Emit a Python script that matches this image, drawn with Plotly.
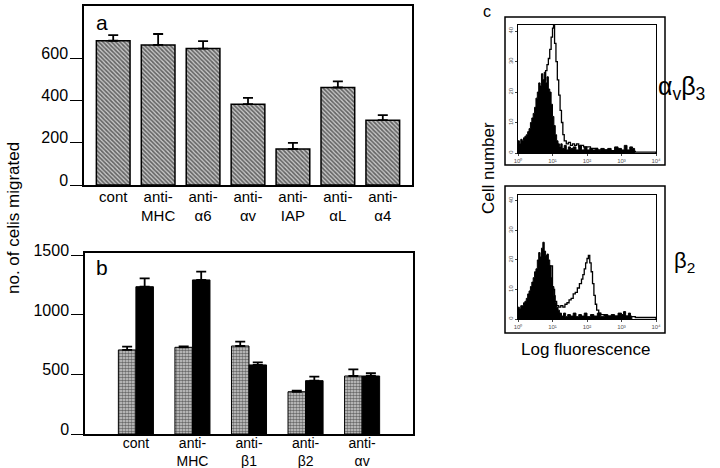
import plotly.graph_objects as go

W, H = 720, 468
FONT = "Liberation Sans, Arial, sans-serif"

# ---------------- data ----------------
# panel a
a_cats = ["cont", "anti-<br>MHC", "anti-<br>α6", "anti-<br>αv", "anti-<br>IAP", "anti-<br>αL", "anti-<br>α4"]
a_vals = [685, 665, 648, 384, 171, 463, 308]
a_errs = [27, 52, 35, 30, 29, 29, 24]
a_yticks = [0, 200, 400, 600]

# panel b
b_cats = ["cont", "anti-<br>MHC", "anti-<br>β1", "anti-<br>β2", "anti-<br>αv"]
b_dot_vals = [706, 728, 739, 355, 487]
b_dot_errs = [27, 8, 36, 8, 55]
b_blk_vals = [1237, 1294, 580, 448, 487]
b_blk_errs = [70, 70, 22, 34, 23]
b_yticks = [0, 500, 1000, 1500]

# panel c (log10 fluorescence, cell number)
c1_fill_x = [0.00, 0.04, 0.08, 0.12, 0.16, 0.20, 0.24, 0.28, 0.32, 0.36, 0.40, 0.44, 0.48, 0.52, 0.56, 0.60,
             0.64, 0.68, 0.72, 0.76, 0.80, 0.84, 0.88, 0.92, 0.96, 1.00, 1.04, 1.08, 1.12, 1.16, 1.20, 1.24,
             1.28, 1.34, 1.40, 1.46, 1.52, 1.60, 1.68, 1.76, 1.84, 1.92, 2.00, 2.08, 2.16, 2.24, 2.32, 2.40,
             2.50, 2.60, 2.70, 2.80, 2.90, 3.00, 3.08, 3.16, 3.24, 3.32, 3.38]
c1_fill_y = [4, 3, 4.5, 4, 5, 5.5, 6, 7, 8, 10, 11.5, 13, 15, 18, 20, 23,
             22, 26, 24, 26.5, 23, 25, 21, 20, 16, 12, 9, 6, 4, 3, 2, 3,
             1.5, 2.5, 1, 2, 1.5, 2, 1, 2.5, 1, 2, 1, 1.5, 1, 1.5, 0.8, 1.5,
             1, 1.5, 0.8, 2, 1.5, 1, 2.5, 1, 2, 1.5, 0]
c1_open_x = [0.00, 0.20, 0.40, 0.60, 0.70, 0.76, 0.80, 0.84, 0.88, 0.92, 0.96, 1.00, 1.03, 1.06, 1.10, 1.14,
             1.18, 1.22, 1.26, 1.30, 1.34, 1.40, 1.46, 1.52, 1.58, 1.64, 1.70, 1.76, 1.82, 1.90, 2.00, 2.10,
             2.20, 2.30, 2.40, 2.60, 2.80, 3.00, 3.40, 4.00]
c1_open_y = [2, 3, 6, 14, 20, 24, 27, 29, 31, 34, 38, 41, 45, 36, 30, 24,
             19, 14, 10, 6, 4, 3, 3.5, 2.5, 3, 2.5, 3, 2, 2.5, 2, 2, 1.5,
             1.5, 1, 1, 0.8, 0.8, 0.5, 0.3, 0]

c2_fill_x = [0.00, 0.04, 0.08, 0.12, 0.16, 0.20, 0.24, 0.28, 0.32, 0.36, 0.40, 0.44, 0.48, 0.52, 0.56, 0.60,
             0.64, 0.68, 0.72, 0.76, 0.80, 0.84, 0.88, 0.92, 0.96, 1.00, 1.04, 1.08, 1.12, 1.16, 1.20, 1.26,
             1.32, 1.38, 1.44, 1.52, 1.60, 1.68, 1.76, 1.84, 1.92, 2.00, 2.10, 2.20, 2.30, 2.40, 2.50, 2.60,
             2.70, 2.80, 2.90, 3.00, 3.06, 3.12, 3.20, 3.26, 3.30]
c2_fill_y = [4, 3.5, 4.5, 4.5, 5.5, 6, 7, 8.5, 9.5, 11, 12.5, 14, 16, 17, 20, 22.5,
             21, 24, 26, 23, 21.5, 22, 20, 18, 14, 11, 8, 5.5, 4, 3, 2, 1,
             2, 0.8, 1.5, 1, 2, 0.8, 1.5, 1, 2, 0.8, 1.5, 1, 2, 0.8, 1.5, 1,
             1.5, 1, 2, 1.5, 2.5, 1, 2, 1, 0]
c2_open_x = [0.00, 0.20, 0.40, 0.60, 0.80, 1.00, 1.06, 1.12, 1.18, 1.24, 1.30, 1.36, 1.42, 1.48, 1.54, 1.60,
             1.66, 1.72, 1.78, 1.84, 1.88, 1.92, 1.96, 2.00, 2.04, 2.08, 2.12, 2.16, 2.20, 2.24, 2.28, 2.34,
             2.40, 2.50, 2.60, 2.80, 3.00, 3.20, 3.40, 4.00]
c2_open_y = [3, 5, 10, 18, 18, 10, 6, 4.5, 4, 4.5, 4, 5, 5.5, 6.5, 7, 8.5,
             9, 10.5, 12, 13.5, 15, 17, 19, 20.5, 21.5, 19, 16, 12, 8, 5, 3, 2,
             1.5, 1.2, 1, 1, 1, 0.8, 0.5, 0]
c_xticks = [0, 1, 2, 3, 4]
c_xticktext = ["10⁰", "10¹", "10²", "10³", "10⁴"]
c_yticks = [0, 10, 20, 30, 40]


def px(x):
    return x / W


def py(y):
    return 1 - y / H


fig = go.Figure()

hatch = dict(shape="\\", fgcolor="black", bgcolor="#c8c8c8", size=3, solidity=0.55)
dots = dict(shape=".", fgcolor="black", bgcolor="#d4d4d4", size=3, solidity=0.6)

# panel a bars
fig.add_trace(go.Bar(
    x=a_cats, y=a_vals, width=0.75, xaxis="x", yaxis="y",
    marker=dict(color="white", pattern=hatch, line=dict(color="black", width=1.5)),
    error_y=dict(type="data", symmetric=False, array=a_errs, arrayminus=[0] * len(a_errs),
                 color="black", thickness=1.8, width=5),
    showlegend=False))

# panel b bars
fig.add_trace(go.Bar(
    x=b_cats, y=b_dot_vals, width=0.31, offset=-0.31, xaxis="x2", yaxis="y2",
    marker=dict(color="white", pattern=dots, line=dict(color="black", width=1)),
    error_y=dict(type="data", symmetric=False, array=b_dot_errs, arrayminus=[0] * len(b_dot_errs),
                 color="black", thickness=1.8, width=5),
    showlegend=False))
fig.add_trace(go.Bar(
    x=b_cats, y=b_blk_vals, width=0.31, offset=0, xaxis="x2", yaxis="y2",
    marker=dict(color="black", line=dict(color="black", width=1)),
    error_y=dict(type="data", symmetric=False, array=b_blk_errs, arrayminus=[0] * len(b_blk_errs),
                 color="black", thickness=1.8, width=5),
    showlegend=False))

# panel c histograms
for xs, ys, xa, ya in [(c1_fill_x, c1_fill_y, "x3", "y3"), (c2_fill_x, c2_fill_y, "x4", "y4")]:
    fig.add_trace(go.Scatter(x=xs, y=ys, xaxis=xa, yaxis=ya, mode="lines",
                             line=dict(color="black", width=1, shape="hv"),
                             fill="tozeroy", fillcolor="black", showlegend=False))
for xs, ys, xa, ya in [(c1_open_x, c1_open_y, "x3", "y3"), (c2_open_x, c2_open_y, "x4", "y4")]:
    fig.add_trace(go.Scatter(x=xs, y=ys, xaxis=xa, yaxis=ya, mode="lines",
                             line=dict(color="black", width=1.3, shape="hv"),
                             showlegend=False))

bar_x = dict(type="category", showline=True, linecolor="black", linewidth=1.5, mirror=True,
             ticks="", showgrid=False, zeroline=False, automargin=False)
bar_y = dict(showline=True, linecolor="black", linewidth=1.5, mirror=True, ticks="outside",
             ticklen=12, tickwidth=1, tickcolor="black", showgrid=False, zeroline=False,
             tickfont=dict(size=16, color="black", family=FONT), ticklabelstandoff=-1,
             ticklabelshift=-5, automargin=False)
flow_x = dict(range=[0, 4], tickvals=c_xticks, ticktext=c_xticktext, showline=True, linecolor="black",
              linewidth=0.8, mirror=True, ticks="outside", ticklen=2, tickwidth=0.6,
              tickfont=dict(size=6, color="#555555", family=FONT), showgrid=False, zeroline=False,
              automargin=False)
flow_y = dict(range=[0, 42], tickvals=c_yticks, showline=True, linecolor="black",
              linewidth=0.8, mirror=True, ticks="outside", ticklen=2, tickwidth=0.6, tickangle=-90,
              tickfont=dict(size=6, color="#555555", family=FONT), showgrid=False, zeroline=False,
              automargin=False)

fig.update_layout(
    width=W, height=H, margin=dict(l=0, r=0, t=0, b=0, autoexpand=False),
    paper_bgcolor="white", plot_bgcolor="white", barmode="overlay",
    font=dict(family=FONT, color="black"),
    xaxis=dict(bar_x, domain=[px(84), px(412)], anchor="y", range=[-0.65, 6.65],
               tickfont=dict(size=15, color="black", family=FONT), ticklabelstandoff=-3),
    yaxis=dict(bar_y, domain=[py(185), py(6)], anchor="x", range=[0, 850], tickvals=a_yticks),
    xaxis2=dict(bar_x, domain=[px(85), px(413)], anchor="y2", range=[-0.9, 4.9],
                tickfont=dict(size=14, color="black", family=FONT), ticklabelstandoff=-5),
    yaxis2=dict(bar_y, domain=[py(434), py(253)], anchor="x2", range=[0, 1520], tickvals=b_yticks),
    xaxis3=dict(flow_x, domain=[px(518), px(656)], anchor="y3"),
    yaxis3=dict(flow_y, domain=[py(153), py(25)], anchor="x3"),
    xaxis4=dict(flow_x, domain=[px(518), px(656)], anchor="y4"),
    yaxis4=dict(flow_y, domain=[py(319), py(195)], anchor="x4"),
)

# outer boxes of flow panels
for (x0, y0, x1, y1) in [(505, 17, 665, 165), (505, 186, 665, 333)]:
    fig.add_shape(type="rect", xref="paper", yref="paper", x0=px(x0), x1=px(x1), y0=py(y1), y1=py(y0),
                  line=dict(color="black", width=1.5))

ann = [
    ("a", 102, 22, 21, 0),
    ("b", 102, 267, 21, 0),
    ("c", 487, 11, 16, 0),
    ("no. of celis migrated", 13, 218, 17, -90),
    ("Cell number", 488, 168, 17, -90),
    ("Log fluorescence", 585, 349, 17, 0),
    ("α<sub>v</sub>β<sub>3</sub>", 681, 88, 25, 0),
    ("β<sub>2</sub>", 684, 262, 22, 0),
]
for text, x, y, size, ang in ann:
    fig.add_annotation(text=text, xref="paper", yref="paper", x=px(x), y=py(y), showarrow=False,
                       xanchor="center", yanchor="middle", textangle=ang,
                       font=dict(size=size, color="black", family=FONT))

fig.write_html("out.html", config={"displayModeBar": False},
               post_script="document.body.style.margin='0';document.body.style.padding='0';")
